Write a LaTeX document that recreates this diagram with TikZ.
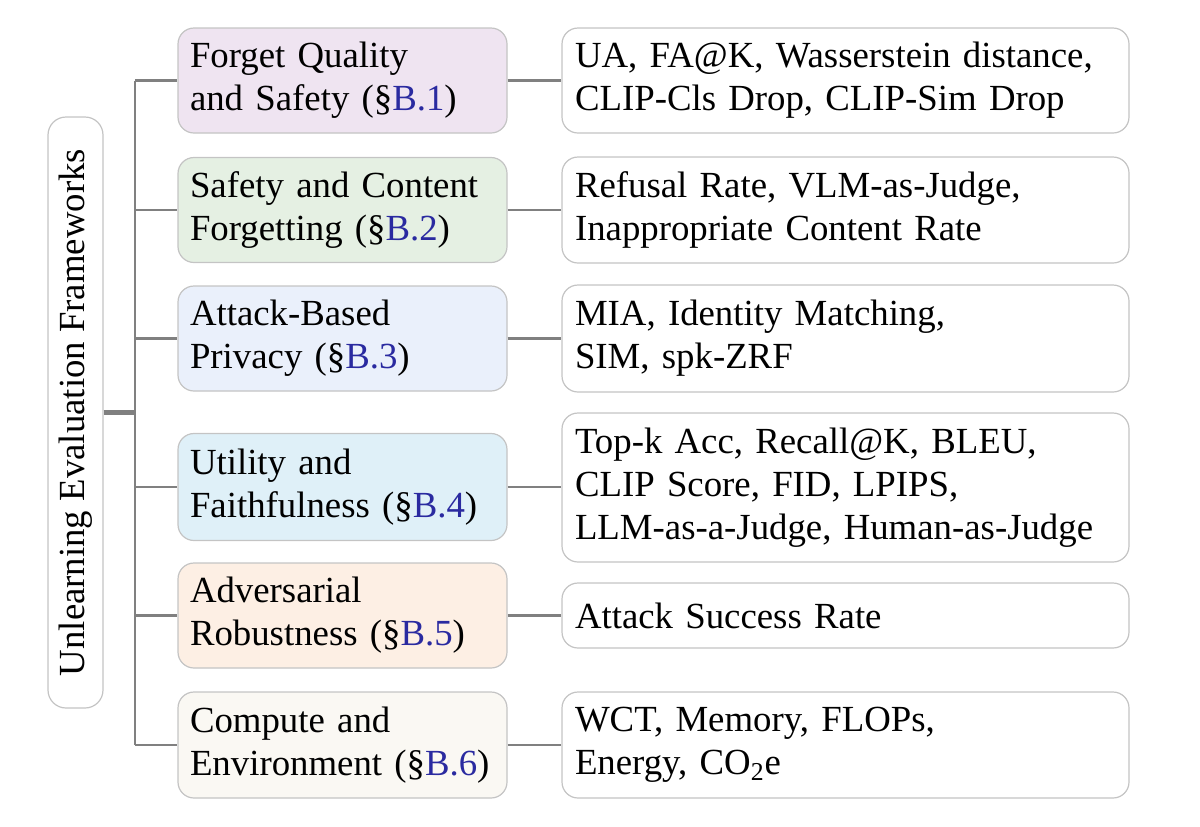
\documentclass[tikz,border=0pt]{standalone}
\usepackage{fontspec}
\setmainfont{Liberation Serif}
\definecolor{boxborder}{HTML}{C4C4C4}
\definecolor{connc}{HTML}{808080}
\definecolor{linkblue}{HTML}{2A2AA0}
\definecolor{fillA}{HTML}{EFE4F1}
\definecolor{fillB}{HTML}{E5F0E3}
\definecolor{fillC}{HTML}{EAF0FB}
\definecolor{fillD}{HTML}{DFF0F8}
\definecolor{fillE}{HTML}{FDEFE4}
\definecolor{fillF}{HTML}{FAF8F3}
\newcommand\bsecref[1]{(\S\textcolor{linkblue}{B.#1})}
\begin{document}
\begin{tikzpicture}[x=0.5pt,y=-0.5pt,
  box/.style={draw=boxborder, line width=0.6pt, rounded corners=8pt,
    font=\fontsize{18.4}{21.6}\selectfont, align=left, inner ysep=0pt},
  cat/.style={box, inner xsep=6pt, text width=152.5pt},
  met/.style={box, fill=white, inner xsep=6.5pt, text width=270.5pt},
  conn/.style={draw=connc, line width=1.4pt},
  rootconn/.style={draw=connc, line width=2.6pt}]
\useasboundingbox (0,0) rectangle (1200,826);

\node[box, fill=white, rotate=90, rounded corners=9pt, align=center,
  minimum width=295.5pt, minimum height=27.5pt, inner sep=0pt] (root) at (75.5,412.5)
  {Unlearning Evaluation Frameworks};

\node[cat, fill=fillA, minimum height=52.5pt] (c1) at (342.5,80.5) {Forget Quality\\and Safety \bsecref{1}};
\node[cat, fill=fillB, minimum height=52.5pt] (c2) at (342.5,210) {Safety and Content\\Forgetting \bsecref{2}};
\node[cat, fill=fillC, minimum height=52.5pt] (c3) at (342.5,338.5) {Attack-Based\\Privacy \bsecref{3}};
\node[cat, fill=fillD, minimum height=53.5pt] (c4) at (342.5,487) {Utility and\\Faithfulness \bsecref{4}};
\node[cat, fill=fillE, minimum height=52.5pt] (c5) at (342.5,615.5) {Adversarial\\Robustness \bsecref{5}};
\node[cat, fill=fillF, minimum height=53pt] (c6) at (342.5,745) {Compute and\\Environment \bsecref{6}};

\node[met, minimum height=52.5pt] (m1) at (845.5,80.5) {UA, FA@K, Wasserstein distance,\\CLIP-Cls Drop, CLIP-Sim Drop};
\node[met, minimum height=53pt] (m2) at (845.5,210) {Refusal Rate, VLM-as-Judge,\\Inappropriate Content Rate};
\node[met, minimum height=53.5pt] (m3) at (845.5,338.5) {MIA, Identity Matching,\\SIM, spk-ZRF};
\node[met, minimum height=74.5pt] (m4) at (845.5,487.5) {Top-k Acc, Recall@K, BLEU,\\CLIP Score, FID, LPIPS,\\LLM-as-a-Judge, Human-as-Judge};
\node[met, minimum height=32.5pt] (m5) at (845.5,615.5) {Attack Success Rate};
\node[met, minimum height=53pt] (m6) at (845.5,745) {WCT, Memory, FLOPs,\\Energy, CO\textsubscript{2}e};

\coordinate (tr) at (135,412.5);
\draw[conn] (c1.west -| tr) -- (c6.west -| tr);
\foreach \i in {1,...,6} {
  \draw[conn] (c\i.west -| tr) -- (c\i.west);
  \draw[conn] (c\i.east) -- (c\i.east -| m\i.west);
}
\draw[rootconn] (root.south) -- (root.south -| tr);
\end{tikzpicture}
\end{document}
